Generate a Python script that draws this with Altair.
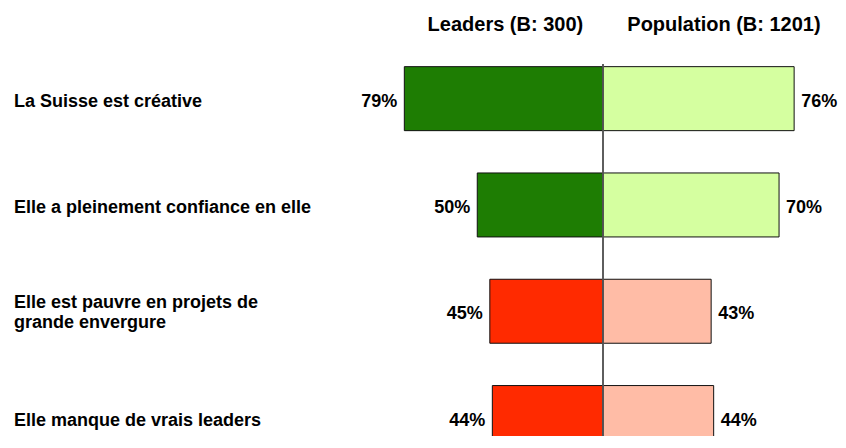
import altair as alt
import pandas as pd

categories = [
    "La Suisse est créative",
    "Elle a pleinement confiance en elle",
    "Elle est pauvre en projets de\ngrande envergure",
    "Elle manque de vrais leaders",
]
tone = ["positive", "positive", "negative", "negative"]
leaders = [79, 50, 45, 44]
population = [76, 70, 43, 44]
groups = ["Leaders (B: 300)", "Population (B: 1201)"]

rows = []
for c, t, l, p in zip(categories, tone, leaders, population):
    rows.append({"cat": c, "group": "Leaders", "tone": t, "value": l, "key": "Leaders-" + t})
    rows.append({"cat": c, "group": "Population", "tone": t, "value": p, "key": "Population-" + t})
df = pd.DataFrame(rows)
cat_df = pd.DataFrame({"cat": categories})
head_df = pd.DataFrame({"label": groups, "side": ["Leaders", "Population"]})

FONT = "Arial, Liberation Sans, sans-serif"
W, H = 830, 428
PX = 2.515
X0 = 595

xscale = alt.Scale(domain=[-X0 / PX, (W - X0) / PX], nice=False, zero=False)
yscale = alt.Scale(domain=categories, range=[37.5, 462.7], paddingInner=0.398, paddingOuter=0.199)

base = alt.Chart(df).transform_calculate(
    signed="datum.group == 'Leaders' ? -datum.value : datum.value",
    lab="datum.value + '%'",
)

bars = base.mark_bar(stroke="#111111", strokeWidth=1).encode(
    x=alt.X("signed:Q", scale=xscale, axis=None),
    x2=alt.datum(0),
    y=alt.Y("cat:N", scale=yscale, axis=None, sort=categories),
    color=alt.Color(
        "key:N",
        scale=alt.Scale(
            domain=["Leaders-positive", "Population-positive", "Leaders-negative", "Population-negative"],
            range=["#1e7d03", "#d5ffa0", "#ff2a00", "#ffbca6"],
        ),
        legend=None,
    ),
)

rule = alt.Chart(cat_df).mark_rule(color="#555555", strokeWidth=1).encode(
    x=alt.datum(0, scale=xscale),
    y=alt.value(56),
    y2=alt.value(H),
)

lab_left = base.transform_filter("datum.group == 'Leaders'").mark_text(
    align="right", baseline="middle", dx=-7, dy=3, font=FONT, fontWeight="bold", fontSize=18, color="black"
).encode(
    x=alt.X("signed:Q", scale=xscale),
    y=alt.Y("cat:N", scale=yscale, sort=categories),
    text="lab:N",
)

lab_right = base.transform_filter("datum.group == 'Population'").mark_text(
    align="left", baseline="middle", dx=7, dy=3, font=FONT, fontWeight="bold", fontSize=18, color="black"
).encode(
    x=alt.X("signed:Q", scale=xscale),
    y=alt.Y("cat:N", scale=yscale, sort=categories),
    text="lab:N",
)

cat_base = alt.Chart(cat_df)

cat_single = cat_base.transform_filter("indexof(datum.cat, '\\n') < 0").mark_text(
    align="left", baseline="middle", dy=3, font=FONT, fontWeight="bold", fontSize=18,
    color="black",
).encode(
    x=alt.datum(-234.2, scale=xscale),
    y=alt.Y("cat:N", scale=yscale, sort=categories),
    text="cat:N",
)

cat_multi = cat_base.transform_filter("indexof(datum.cat, '\\n') >= 0").mark_text(
    align="left", baseline="middle", dy=-8, font=FONT, fontWeight="bold", fontSize=18,
    color="black", lineBreak="\n", lineHeight=20,
).encode(
    x=alt.datum(-234.2, scale=xscale),
    y=alt.Y("cat:N", scale=yscale, sort=categories),
    text="cat:N",
)

head_text = alt.Chart(head_df).mark_text(
    align="center", baseline="middle", font=FONT, fontWeight="bold", fontSize=20, color="black"
).encode(
    x=alt.X("hx:Q", scale=xscale),
    y=alt.value(17),
    text="label:N",
).transform_calculate(hx="datum.side == 'Leaders' ? -38.8 : 48.1")

chart = alt.layer(bars, rule, lab_left, lab_right, cat_single, cat_multi, head_text).properties(
    width=W, height=H, autosize=alt.AutoSizeParams(type="none"), padding=0
).configure_view(stroke=None)

chart.save("out.html", embed_options={"renderer": "svg", "actions": False})
